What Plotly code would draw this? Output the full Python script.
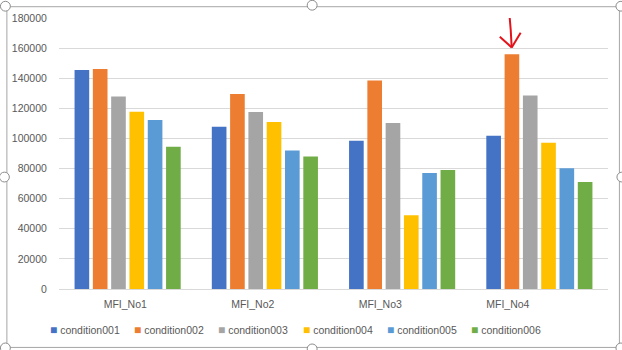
import plotly.graph_objects as go

categories = ["MFI_No1", "MFI_No2", "MFI_No3", "MFI_No4"]
series_names = ["condition001", "condition002", "condition003",
                "condition004", "condition005", "condition006"]
condition001 = [145500, 107800, 98500, 101800]
condition002 = [146200, 129500, 138500, 156000]
condition003 = [127800, 117500, 110300, 128500]
condition004 = [117800, 111000, 49000, 97200]
condition005 = [112200, 92000, 77000, 80200]
condition006 = [94500, 88000, 79000, 71000]
y_ticks = [0, 20000, 40000, 60000, 80000, 100000, 120000, 140000, 160000, 180000]
colors = ["#4472C4", "#ED7D31", "#A5A5A5", "#FFC000", "#5B9BD5", "#70AD47"]

values = [condition001, condition002, condition003, condition004, condition005, condition006]

W, H = 622, 350
L, R, T, B = 55, 14, 13, 61
PW, PH = W - L - R, H - T - B

def px(x):
    return (x - L) / PW

def py(y):
    return (H - B - y) / PH

fig = go.Figure()
for name, vals, col in zip(series_names, values, colors):
    fig.add_trace(go.Bar(x=categories, y=vals, name=name, marker_color=col,
                         marker_line_width=0, showlegend=False))

font = dict(family="Liberation Sans, Arial, sans-serif", size=10.5, color="#595959")

shapes = []
# chart frame
shapes.append(dict(type="rect", xref="paper", yref="paper",
                   x0=px(2.5), x1=px(619.5), y0=py(1.5), y1=py(348.5),
                   line=dict(color="#a6a6a6", width=1), fillcolor="rgba(0,0,0,0)", layer="above"))
# selection handles
for hx, hy in [(310, 0), (310, 350), (0, 175), (622, 175), (1, 1), (621, 1), (1, 349), (621, 349)]:
    r = 5
    shapes.append(dict(type="circle", xref="paper", yref="paper",
                       x0=px(hx - r), x1=px(hx + r), y0=py(hy + r), y1=py(hy - r),
                       line=dict(color="#8c8c8c", width=1), fillcolor="white", layer="above"))
# red hand-drawn arrow
def path(points):
    return "M " + " L ".join(f"{px(a)},{py(b)}" for a, b in points)
for pts in [[(509, 13), (510, 25), (511, 43)], [(499, 32), (511, 43)], [(520, 28), (511, 43)]]:
    shapes.append(dict(type="path", xref="paper", yref="paper", path=path(pts),
                       line=dict(color="#e3121b", width=2)))

annotations = []
for i, (name, col) in enumerate(zip(series_names, colors)):
    annotations.append(dict(
        xref="paper", yref="paper", x=px(44 + i * 84.8), y=py(331),
        xanchor="left", yanchor="middle", showarrow=False,
        text=f"<span style='color:{col};font-size:12px'>■</span> {name}",
        font=font))

fig.update_layout(
    width=W, height=H,
    margin=dict(l=L, r=R, t=T, b=B),
    paper_bgcolor="white", plot_bgcolor="white",
    barmode="group", bargap=0.2, bargroupgap=0.2,
    font=font,
    showlegend=False,
    xaxis=dict(
        type="category",
        tickmode="array",
        tickvals=[i * 0.929 - 0.017 for i in range(len(categories))],
        ticktext=categories,
        range=[-0.5, len(categories) - 0.5],
        showgrid=False, showline=False, zeroline=False,
        ticks="outside", ticklen=5, tickcolor="rgba(0,0,0,0)",
        tickfont=font,
    ),
    yaxis=dict(
        range=[0, 180000],
        tickmode="array", tickvals=y_ticks, ticktext=[str(v) for v in y_ticks],
        showgrid=True, gridcolor="#d9d9d9", gridwidth=1,
        zeroline=True, zerolinecolor="#d9d9d9", zerolinewidth=1,
        showline=False,
        ticks="outside", ticklen=9, tickcolor="rgba(0,0,0,0)",
        tickfont=font,
    ),
    shapes=shapes,
    annotations=annotations,
)

fig.write_html("out.html")
